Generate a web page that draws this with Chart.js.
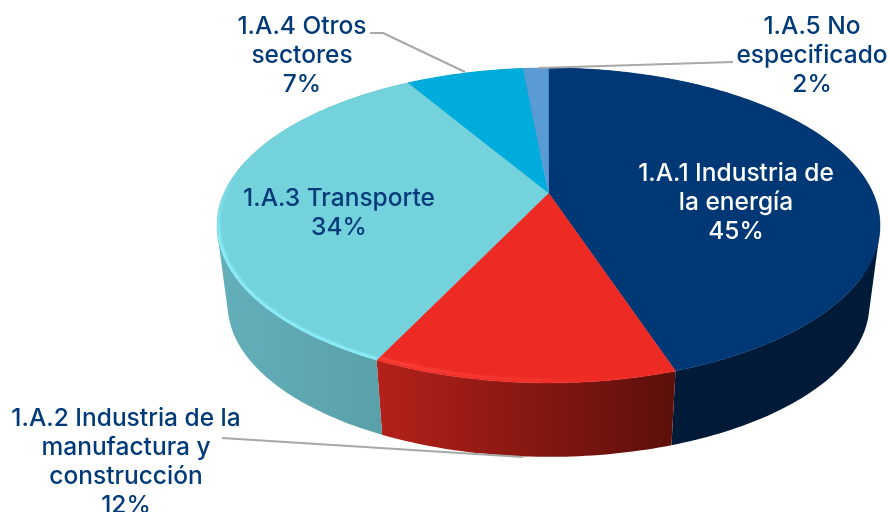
<!DOCTYPE html>
<html>
<head>
<meta charset="utf-8">
<style>
html,body{margin:0;padding:0;background:#fff;width:890px;height:512px;overflow:hidden}
#wrap{position:relative;width:890px;height:512px}
canvas{display:block}
</style>
<script src="https://cdn.jsdelivr.net/npm/chart.js@4"></script>
</head>
<body>
<div id="wrap"><canvas id="c" width="890" height="512"></canvas></div>
<script>
const categories = ["1.A.1 Industria de la energía","1.A.2 Industria de la manufactura y construcción","1.A.3 Transporte","1.A.4 Otros sectores","1.A.5 No especificado"];
const shares = [44.9,12.2,34.4,7.0,1.5];
const labelLines = [["1.A.1 Industria de","la energía"],["1.A.2 Industria de la","manufactura y","construcción"],["1.A.3 Transporte"],["1.A.4 Otros","sectores"],["1.A.5 No","especificado"]];
const topColors = ["#003876","#ee2a24","#73d2db","#00acdc","#5b9bd5"];

const labelPlace = [
  {x:736,y:174,color:"#ffffff"},
  {x:126,y:419,color:"#003a78"},
  {x:339,y:199,color:"#003a78"},
  {x:302,y:27,color:"#003a78"},
  {x:812,y:27,color:"#003a78"}
];
const leaders = [
  [[370,33],[383,33],[465,72]],
  [[538,68],[733,62]],
  [[222,438],[523,457]]
];
const wallStops = [
  [["#001a38",0],["#001a38",1]],
  [["#b4211a",0],["#5c0f0a",1]],
  [["#63afba",0],["#579ea6",1]],
  [["#007fa3",0],["#007fa3",1]],
  [["#44739e",0],["#44739e",1]]
];
const view = {xScale:324.4/193, yScale:150.8/193, persp:0.206, lowerScale:0.968, lowerDrop:80};

function project(arc, theta, frac, lower){
  const s = Math.sin(theta)*frac, v = -Math.cos(theta)*frac;
  const w = 1 - view.persp*v;
  const k = lower ? view.lowerScale : 1;
  return [arc.x + k*view.xScale*arc.outerRadius*s/w, arc.y + (lower?view.lowerDrop:0) + k*view.yScale*arc.outerRadius*v/w];
}

const pie3d = {
  id:"pie3d",
  beforeDatasetsDraw(chart){
    const ctx = chart.ctx, arcs = chart.getDatasetMeta(0).data;
    const bg = chart.data.datasets[0].backgroundColor;
    const step = Math.PI/180;
    const span = a => {
      const t0 = a.startAngle+Math.PI/2, t1 = a.endAngle+Math.PI/2, out = [];
      const n = Math.max(2,Math.ceil((t1-t0)/step));
      for(let i=0;i<=n;i++) out.push(t0+(t1-t0)*i/n);
      return out;
    };
    const addQuad = pts => {
      let area = 0;
      pts.forEach((p,k)=>{const q=pts[(k+1)%4];area+=p[0]*q[1]-q[0]*p[1];});
      const o = area<0 ? pts.slice().reverse() : pts;
      ctx.moveTo(o[0][0],o[0][1]);
      for(let k=1;k<4;k++) ctx.lineTo(o[k][0],o[k][1]);
      ctx.closePath();
    };
    ctx.save();
    // side walls: all strips of a slice go into one path, so there are no seams
    arcs.forEach((a,i)=>{
      const th = span(a);
      const P = th.map(t=>project(a,t,1,false)), Q = th.map(t=>project(a,t,1,true));
      const xs = P.concat(Q).map(p=>p[0]);
      const g = ctx.createLinearGradient(Math.min(...xs),0,Math.max(...xs),0);
      wallStops[i].forEach(s=>g.addColorStop(s[1],s[0]));
      ctx.fillStyle = g;
      ctx.beginPath();
      for(let k=0;k<th.length-1;k++) addQuad([P[k],P[k+1],Q[k+1],Q[k]]);
      ctx.fill("nonzero");
    });
    // top faces
    const sliceFace = a => {
      const c = project(a,0,0,false);
      ctx.beginPath();
      ctx.moveTo(c[0],c[1]);
      span(a).forEach(t=>{const p=project(a,t,1,false);ctx.lineTo(p[0],p[1]);});
      ctx.closePath();
    };
    arcs.forEach((a,i)=>{
      sliceFace(a);
      ctx.fillStyle = bg[i]; ctx.strokeStyle = bg[i]; ctx.lineWidth = 0.5;
      ctx.fill();ctx.stroke();
    });
    // bevel highlights along the front rim
    const tealGlow = ctx.createLinearGradient(0,170,0,245);
    tealGlow.addColorStop(0,"rgba(140,236,248,0)");
    tealGlow.addColorStop(1,"rgba(140,236,248,1)");
    const redGlow = ctx.createLinearGradient(378,0,600,0);
    redGlow.addColorStop(0,"rgba(255,74,66,1)");
    redGlow.addColorStop(0.75,"rgba(255,74,66,0.35)");
    redGlow.addColorStop(1,"rgba(255,74,66,0)");
    [[1,redGlow,0.988,2.5],[2,tealGlow,0.997,4.5]].forEach(([i,paint,frac,width])=>{
      const a = arcs[i];
      ctx.save();
      sliceFace(a);ctx.clip();
      ctx.filter = "blur(0.8px)";
      ctx.beginPath();
      span(a).forEach((t,k)=>{const p=project(a,t,frac,false);k?ctx.lineTo(p[0],p[1]):ctx.moveTo(p[0],p[1]);});
      ctx.strokeStyle = paint; ctx.lineWidth = width;
      ctx.stroke();
      ctx.restore();
    });
    // leader lines
    ctx.strokeStyle = "#a8a8a8"; ctx.lineWidth = 2; ctx.lineJoin = "round";
    leaders.forEach(l=>{
      ctx.beginPath();
      l.forEach((p,k)=>k?ctx.lineTo(p[0],p[1]):ctx.moveTo(p[0],p[1]));
      ctx.stroke();
    });
    // labels
    ctx.font = "500 24.5px Inter";
    ctx.textAlign = "center"; ctx.textBaseline = "middle";
    shares.forEach((v,i)=>{
      const place = labelPlace[i];
      const lines = labelLines[i].concat([Math.round(v)+"%"]);
      ctx.fillStyle = place.color;
      lines.forEach((t,k)=>ctx.fillText(t,place.x,place.y+k*29));
    });
    ctx.restore();
    return false;
  }
};

new Chart(document.getElementById("c"),{
  type:"pie",
  data:{labels:categories,datasets:[{data:shares,backgroundColor:topColors,borderWidth:0}]},
  options:{
    responsive:false,animation:false,
    layout:{padding:{left:207,top:0,right:0,bottom:126}},
    plugins:{legend:{display:false},tooltip:{enabled:false},title:{display:false}}
  },
  plugins:[pie3d]
});
</script>
</body>
</html>
